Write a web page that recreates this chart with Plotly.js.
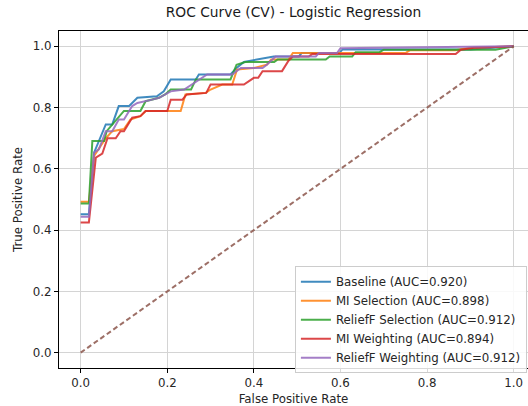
<!DOCTYPE html>
<html>
<head>
<meta charset="utf-8">
<script src="https://cdn.plot.ly/plotly-3.0.1.min.js"></script>
<style>
html, body { margin: 0; padding: 0; background: #fff; overflow: hidden; }
#chart { width: 528px; height: 406px; }
</style>
</head>
<body>
<div id="chart"></div>
<script>
// Series names (legend labels)
const seriesNames = [
  "Baseline (AUC=0.920)",
  "MI Selection (AUC=0.898)",
  "ReliefF Selection (AUC=0.912)",
  "MI Weighting (AUC=0.894)",
  "ReliefF Weighting (AUC=0.912)"
];

// Baseline
const baselineFpr = [0, 0.019, 0.031, 0.045, 0.058, 0.073, 0.088, 0.112, 0.131, 0.176, 0.192, 0.208, 0.266, 0.273, 0.346, 0.360, 0.377, 0.446, 0.504, 0.510, 0.597, 0.605, 0.900, 1.0];
const baselineTpr = [0.452, 0.452, 0.653, 0.700, 0.745, 0.745, 0.805, 0.805, 0.832, 0.837, 0.853, 0.892, 0.892, 0.908, 0.908, 0.929, 0.949, 0.967, 0.967, 0.978, 0.978, 0.990, 0.990, 1.0];

// MI Selection
const miSelFpr = [0, 0.019, 0.031, 0.058, 0.073, 0.100, 0.115, 0.138, 0.150, 0.231, 0.242, 0.289, 0.300, 0.327, 0.350, 0.361, 0.400, 0.430, 0.440, 0.480, 0.490, 0.750, 0.760, 0.865, 0.900, 1.0];
const miSelTpr = [0.493, 0.493, 0.642, 0.700, 0.723, 0.730, 0.761, 0.772, 0.789, 0.789, 0.843, 0.848, 0.859, 0.875, 0.875, 0.924, 0.929, 0.940, 0.957, 0.957, 0.978, 0.978, 0.987, 0.987, 0.995, 1.0];

// ReliefF Selection
const rfSelFpr = [0, 0.019, 0.027, 0.054, 0.060, 0.073, 0.088, 0.100, 0.138, 0.150, 0.181, 0.195, 0.208, 0.255, 0.266, 0.346, 0.360, 0.380, 0.447, 0.455, 0.566, 0.575, 0.627, 0.635, 0.690, 0.700, 0.958, 1.0];
const rfSelTpr = [0.487, 0.487, 0.691, 0.691, 0.723, 0.745, 0.772, 0.789, 0.789, 0.821, 0.832, 0.843, 0.859, 0.859, 0.892, 0.892, 0.940, 0.949, 0.949, 0.957, 0.957, 0.967, 0.967, 0.981, 0.981, 0.989, 0.989, 1.0];

// MI Weighting
const miWtFpr = [0, 0.019, 0.035, 0.050, 0.062, 0.081, 0.092, 0.100, 0.119, 0.138, 0.150, 0.200, 0.208, 0.235, 0.245, 0.290, 0.300, 0.377, 0.400, 0.410, 0.420, 0.465, 0.480, 0.490, 0.527, 0.535, 0.866, 0.878, 0.908, 1.0];
const miWtTpr = [0.425, 0.425, 0.637, 0.650, 0.700, 0.700, 0.723, 0.723, 0.767, 0.772, 0.789, 0.789, 0.826, 0.826, 0.843, 0.848, 0.875, 0.875, 0.897, 0.897, 0.919, 0.919, 0.953, 0.967, 0.967, 0.975, 0.975, 0.989, 0.995, 1.0];

// ReliefF Weighting
const rfWtFpr = [0, 0.019, 0.031, 0.042, 0.058, 0.073, 0.088, 0.100, 0.119, 0.131, 0.165, 0.181, 0.208, 0.239, 0.292, 0.350, 0.370, 0.420, 0.430, 0.450, 0.543, 0.550, 0.592, 0.600, 1.0];
const rfWtTpr = [0.444, 0.444, 0.653, 0.664, 0.723, 0.723, 0.761, 0.761, 0.805, 0.815, 0.826, 0.832, 0.853, 0.859, 0.908, 0.908, 0.929, 0.929, 0.940, 0.967, 0.967, 0.978, 0.978, 0.994, 1.0];

// Chance diagonal
const chanceX = [0, 1];
const chanceY = [0, 1];

const xTicks = [0.0, 0.2, 0.4, 0.6, 0.8, 1.0];
const yTicks = [0.0, 0.2, 0.4, 0.6, 0.8, 1.0];

const colors = ["#1f77b4", "#ff7f0e", "#2ca02c", "#d62728", "#9467bd"];
const xs = [baselineFpr, miSelFpr, rfSelFpr, miWtFpr, rfWtFpr];
const ys = [baselineTpr, miSelTpr, rfSelTpr, miWtTpr, rfWtTpr];

const traces = xs.map((x, i) => ({
  type: "scatter",
  mode: "lines",
  x: x,
  y: ys[i],
  name: seriesNames[i],
  line: { color: colors[i], width: 2 },
  opacity: 0.85
}));

traces.push({
  type: "scatter",
  mode: "lines",
  x: chanceX,
  y: chanceY,
  showlegend: false,
  line: { color: "#8c564b", width: 2, dash: "5px,3px" },
  opacity: 0.85
});

const fontFam = "DejaVu Sans, sans-serif";

const layout = {
  width: 528,
  height: 406,
  margin: { l: 59, r: 0, t: 31, b: 38 },
  paper_bgcolor: "#ffffff",
  plot_bgcolor: "#ffffff",
  font: { family: fontFam, size: 11.8, color: "#262626" },
  title: {
    text: "ROC Curve (CV) - Logistic Regression",
    font: { family: fontFam, size: 13.8, color: "#1a1a1a" },
    x: 0.5, xref: "paper", xanchor: "center",
    y: 1, yref: "container", yanchor: "top", pad: { t: 7 }
  },
  xaxis: {
    range: [-0.05, 1.033],
    tickvals: xTicks,
    ticktext: xTicks.map(v => v.toFixed(1)),
    showgrid: true, gridcolor: "#d4d4d4", gridwidth: 1,
    zeroline: false,
    showline: true, linecolor: "#000", linewidth: 1, mirror: true,
    ticks: "outside", ticklen: 4, tickcolor: "#000", tickwidth: 1,
    tickfont: { family: fontFam, size: 11.8, color: "#262626" },
    title: { text: "False Positive Rate", font: { family: fontFam, size: 11.8, color: "#262626" }, standoff: 6 }
  },
  yaxis: {
    range: [-0.05, 1.05],
    tickvals: yTicks,
    ticktext: yTicks.map(v => v.toFixed(1)),
    showgrid: true, gridcolor: "#d4d4d4", gridwidth: 1,
    zeroline: false,
    showline: true, linecolor: "#000", linewidth: 1,
    ticks: "outside", ticklen: 4, tickcolor: "#000", tickwidth: 1,
    tickfont: { family: fontFam, size: 11.8, color: "#262626" },
    title: { text: "True Positive Rate", font: { family: fontFam, size: 11.8, color: "#262626" }, standoff: 7 }
  },
  legend: {
    x: 0.503, y: 0.302, xanchor: "left", yanchor: "top",
    bgcolor: "rgba(255,255,255,0.85)",
    bordercolor: "#cccccc", borderwidth: 1,
    font: { family: fontFam, size: 11.8, color: "#262626" },
    tracegroupgap: 0
  },
  showlegend: true
};

Plotly.newPlot("chart", traces, layout, { staticPlot: true, displayModeBar: false });
</script>
</body>
</html>
